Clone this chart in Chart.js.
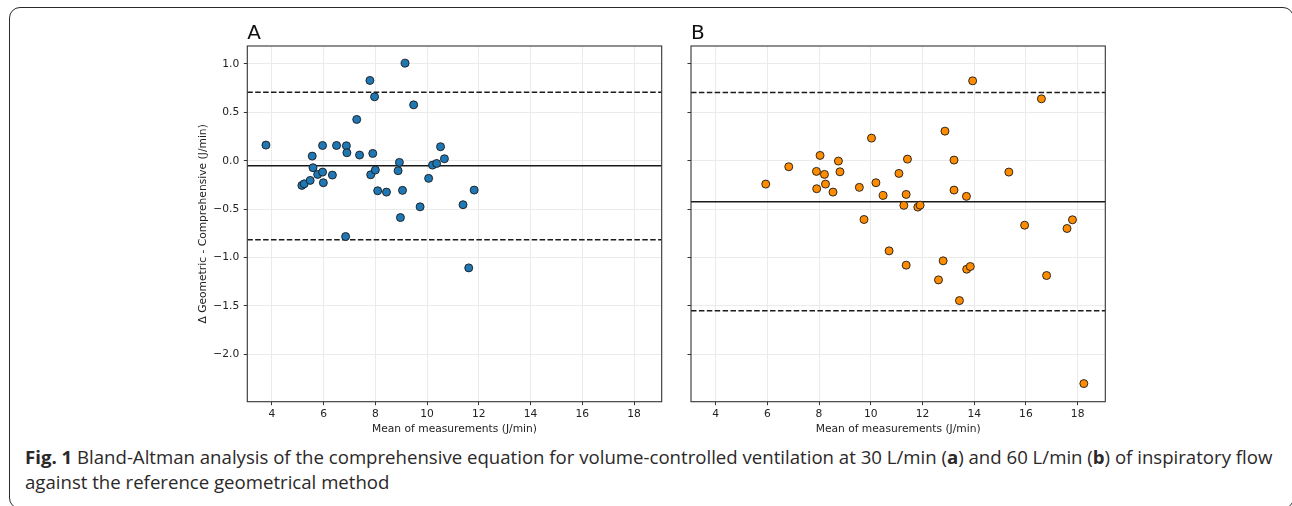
<!DOCTYPE html>
<html>
<head>
<meta charset="utf-8">
<script src="https://cdn.jsdelivr.net/npm/chart.js@4.4.1/dist/chart.umd.min.js"></script>
<style>
  html, body { margin: 0; padding: 0; background: #fff; width: 1292px; height: 506px; overflow: hidden; }
  #frame { position: absolute; left: 9px; top: 7px; width: 1285px; height: 502px; box-sizing: border-box;
           border: 1.5px solid #2a2a2a; border-radius: 11px; }
  .panel { position: absolute; top: 0; }
  #caption { position: absolute; left: 25px; top: 443.5px; font-family: "Open Sans", sans-serif; font-size: 18px;
             line-height: 25px; color: #2b2829; white-space: nowrap; }
</style>
</head>
<body>
<div id="frame"></div>
<canvas id="chartA" class="panel" width="530" height="440" style="left:150px"></canvas>
<canvas id="chartB" class="panel" width="490" height="440" style="left:630px"></canvas>
<div id="caption">
  <div><span id="line1"><b>Fig. 1</b> Bland-Altman analysis of the comprehensive equation for volume-controlled ventilation at 30 L/min (<b>a</b>) and 60 L/min (<b>b</b>) of inspiratory flow</span></div>
  <div>against the reference geometrical method</div>
</div>
<script>
// panel A: 30 L/min
var meanA = [3.77, 5.16, 5.25, 5.48, 5.56, 5.59, 5.77, 5.96, 5.96, 5.99, 6.34, 6.50, 6.85, 6.88, 6.90,
             7.28, 7.39, 7.79, 7.82, 7.90, 7.97, 8.00, 8.09, 8.43, 8.88, 8.93, 8.97, 9.05, 9.15, 9.48,
             9.73, 10.06, 10.21, 10.37, 10.52, 10.67, 11.39, 11.61, 11.82];
var diffA = [0.162, -0.255, -0.238, -0.203, 0.048, -0.072, -0.141, 0.158, -0.117, -0.227, -0.148, 0.158, -0.783, 0.155, 0.083,
             0.427, 0.059, 0.830, -0.145, 0.076, 0.661, -0.096, -0.310, -0.324, -0.103, -0.017, -0.587, -0.306, 1.009, 0.578,
             -0.476, -0.182, -0.045, -0.028, 0.145, 0.021, -0.454, -1.107, -0.303];
var biasA = -0.052;
var limitsA = [0.708, -0.817];

// panel B: 60 L/min
var meanB = [5.94, 6.83, 7.90, 7.91, 8.04, 8.21, 8.25, 8.54, 8.75, 8.81, 9.56, 9.74, 10.03, 10.20, 10.48,
             10.71, 11.09, 11.28, 11.37, 11.37, 11.42, 11.82, 11.91, 12.62, 12.80, 12.87, 13.22, 13.22, 13.43, 13.70,
             13.71, 13.85, 13.94, 15.34, 15.95, 16.60, 16.80, 17.59, 17.80, 18.24];
var diffB = [-0.241, -0.062, -0.110, -0.289, 0.055, -0.141, -0.241, -0.324, -0.003, -0.114, -0.275, -0.607, 0.234, -0.227, -0.358,
             -0.931, -0.131, -0.461, -0.348, -1.079, 0.017, -0.479, -0.459, -1.231, -1.034, 0.306, 0.007, -0.303, -1.445, -0.368,
             -1.121, -1.093, 0.826, -0.117, -0.666, 0.640, -1.186, -0.700, -0.610, -2.303];
var biasB = -0.424;
var limitsB = [0.705, -1.549];

var xTicks = [4, 6, 8, 10, 12, 14, 16, 18];
var yTicks = [-2.0, -1.5, -1.0, -0.5, 0.0, 0.5, 1.0];
var xRange = [3.05, 19.07];
var yRange = [-2.49, 1.186];

// caption first line spans x 25..1273 in the figure
var line1 = document.getElementById('line1');
var cap = document.getElementById('caption');
cap.style.fontSize = (18 * 1248 / line1.offsetWidth) + 'px';

Chart.defaults.font.family = "DejaVu Sans";
Chart.defaults.font.size = 10.7;
Chart.defaults.color = "#222";

var framePlugin = {
    id: 'frame',
    afterDraw: function(chart) {
        var a = chart.chartArea, ctx = chart.ctx;
        ctx.save();
        ctx.strokeStyle = '#333';
        ctx.lineWidth = 1.1;
        ctx.strokeRect(a.left, a.top, a.right - a.left, a.bottom - a.top);
        ctx.restore();
    }
};

function hline(y, dashed) {
    return {
        type: 'line',
        data: [{x: xRange[0], y: y}, {x: xRange[1], y: y}],
        borderColor: '#1a1a1a',
        borderWidth: 1.5,
        borderDash: dashed ? [5.5, 2.4] : [],
        pointRadius: 0,
        showLine: true,
        order: 2
    };
}

function makeChart(id, letter, xs, ys, bias, limits, color, axisW, padRight, showY) {
    var pts = xs.map(function(x, i) { return {x: x, y: ys[i]}; });
    var config = {
        type: 'scatter',
        data: {
            datasets: [
                {
                    data: pts,
                    backgroundColor: color,
                    borderColor: '#1a1a1a',
                    borderWidth: 0.9,
                    pointRadius: 4,
                    order: 0
                },
                hline(bias, false),
                hline(limits[0], true),
                hline(limits[1], true)
            ]
        },
        options: {
            responsive: false,
            animation: false,
            layout: { padding: { left: 0, right: padRight, top: 0, bottom: 0 } },
            plugins: {
                legend: { display: false },
                tooltip: { enabled: false },
                title: {
                    display: true,
                    text: letter,
                    align: 'start',
                    fullSize: false,
                    color: '#111',
                    font: { size: 20, weight: 'normal', lineHeight: 1.2 },
                    padding: { top: 21.5, bottom: 0.5 }
                }
            },
            scales: {
                x: {
                    type: 'linear',
                    min: xRange[0],
                    max: xRange[1],
                    afterBuildTicks: function(s) { s.ticks = xTicks.map(function(v) { return {value: v}; }); },
                    afterFit: function(s) { s.height = 38.3; },
                    ticks: { padding: 3, includeBounds: false, callback: function(v) { return String(v); } },
                    grid: { color: '#ebebeb', tickColor: '#333', tickLength: 3.5, lineWidth: 1 },
                    border: { display: false },
                    title: { display: true, text: 'Mean of measurements (J/min)', padding: { top: 0, bottom: 4.2 } }
                },
                y: {
                    type: 'linear',
                    min: yRange[0],
                    max: yRange[1],
                    afterBuildTicks: function(s) { s.ticks = yTicks.map(function(v) { return {value: v}; }); },
                    afterFit: function(s) { s.width = axisW; },
                    ticks: {
                        display: showY,
                        padding: 4.5,
                        includeBounds: false,
                        callback: function(v) { return Number(v).toFixed(1).replace('-', '\u2212').replace('\u22120.0', '0.0'); }
                    },
                    grid: { color: '#ebebeb', tickColor: '#333', tickLength: 3.5, lineWidth: 1 },
                    border: { display: false },
                    title: { display: showY, text: '\u0394 Geometric - Comprehensive (J/min)', padding: { top: 46.6, bottom: 0 } }
                }
            }
        },
        plugins: [framePlugin]
    };
    return new Chart(document.getElementById(id), config);
}

makeChart('chartA', 'A', meanA, diffA, biasA, limitsA, '#1f77b4', 97.3, 18.3, true);
makeChart('chartB', 'B', meanB, diffB, biasB, limitsB, '#ff8c00', 61, 14.7, false);
</script>
</body>
</html>
